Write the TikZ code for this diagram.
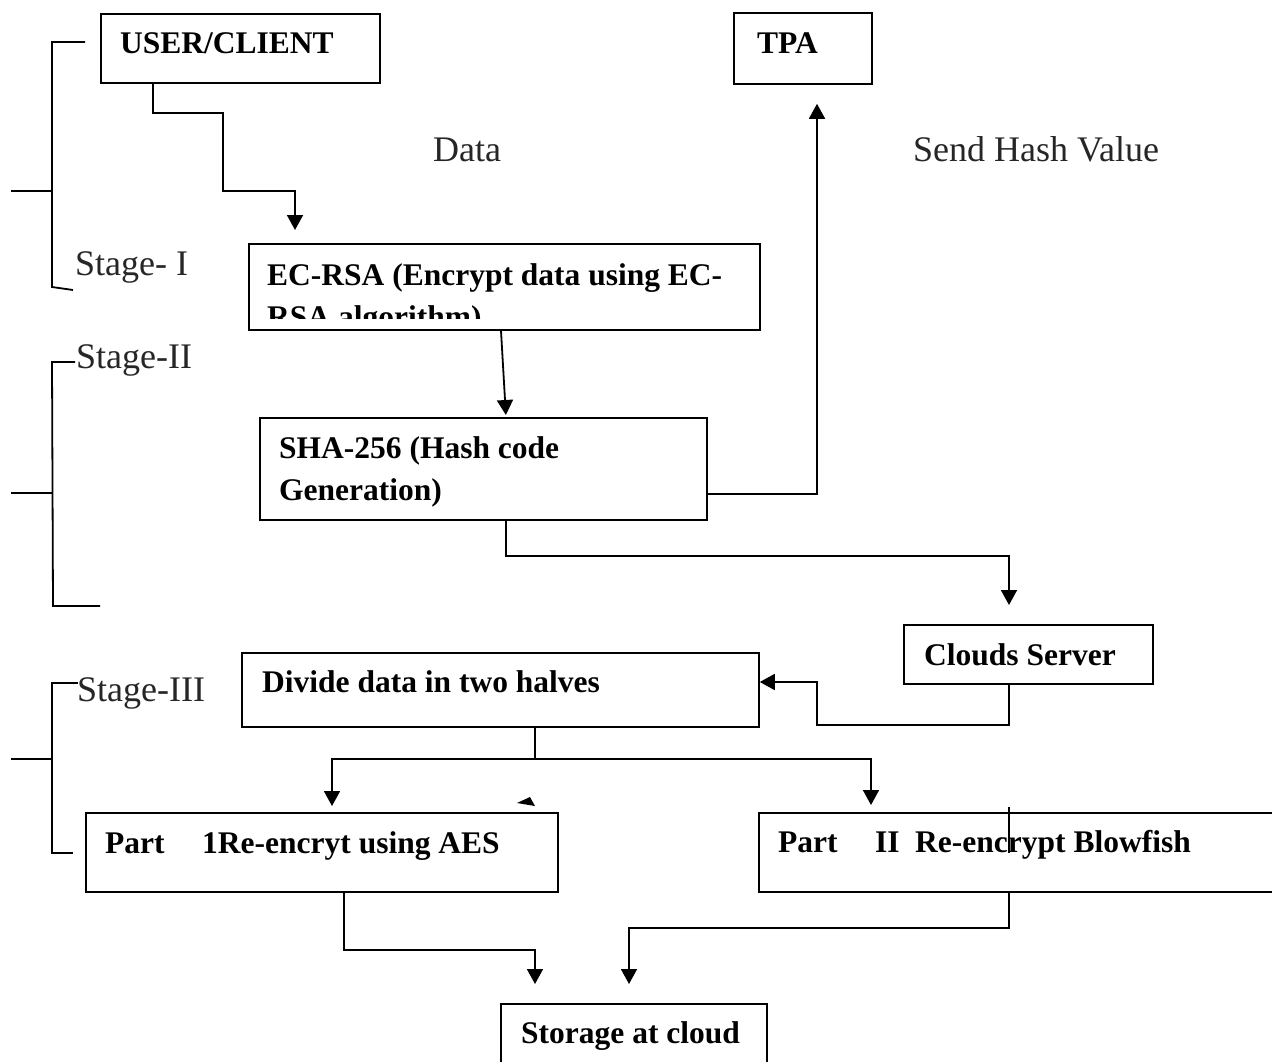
\documentclass[tikz,border=0pt]{standalone}
\usepackage{fontspec}
\setmainfont{Liberation Serif}
\usetikzlibrary{arrows.meta,calc}
\tikzset{
  box/.style={draw=black, line width=1.8pt, rectangle, inner sep=0pt, anchor=north west},
  bt/.style={font=\fontsize{31.5}{38}\selectfont\bfseries, anchor=base west, inner sep=0pt},
  nt/.style={font=\fontsize{36}{43}\selectfont, anchor=base west, inner sep=0pt, text=black!85},
  conn/.style={line width=1.8pt},
  arr/.style={conn, -{Triangle[width=16pt,length=15pt]}},
}
\begin{document}
\begin{tikzpicture}[x=1pt,y=-1pt]
\useasboundingbox (0,0) rectangle (1272,1061);
\clip (0,0) rectangle (1272,1061);

% boxes
\node[box, minimum width=279pt, minimum height=69pt] (user) at (100,13) {};
\node[box, minimum width=138pt, minimum height=71pt] (tpa) at (733,12) {};
\node[box, minimum width=511pt, minimum height=86pt] (ec) at (248,243) {};
\node[box, minimum width=447pt, minimum height=102pt] (sha) at (259,417) {};
\node[box, minimum width=249pt, minimum height=59pt] (clouds) at (903,624) {};
\node[box, minimum width=517pt, minimum height=74pt] (divide) at (241,652) {};
\node[box, minimum width=472pt, minimum height=79pt] (part1) at (85,812) {};
\node[box, minimum width=560pt, minimum height=79pt] (part2) at (758,812) {};
\node[box, minimum width=266pt, minimum height=80pt] (storage) at (500,1003) {};

% texts
\node[bt] (tuser) at (120,53) {USER/CLIENT};
\node[bt] (ttpa) at (757,53) {TPA};
\node[nt] (tdata) at (433,161) {Data};
\node[nt] (tsend) at (913,161) {Send Hash Value};
\node[nt] (ts1) at (75,275) {Stage- I};
\node[nt] (ts2) at (76,368) {Stage-II};
\node[nt] (ts3) at (77,701) {Stage-III};
\node[bt] (tec1) at (267,285) {EC-RSA (Encrypt data using EC-};
\begin{scope}
\clip (248,243) rectangle (759,318);
\node[bt] (tec2) at (267,327) {RSA algorithm)};
\end{scope}
\node[bt] (tsha1) at (279,458) {SHA-256 (Hash code};
\node[bt] (tsha2) at (279,500) {Generation)};
\node[bt] (tclouds) at (924,665) {Clouds Server};
\node[bt] (tdiv) at (262,692) {Divide data in two halves};
\node[bt] (tp1a) at (105,853) {Part};
\node[bt] (tp1b) at (202,853) {1Re-encryt using AES};
\node[bt] (tp2a) at (778,852) {Part};
\node[bt] (tp2b) at (875,852) {II};
\node[bt] (tp2c) at (915,852) {Re-encrypt Blowfish};
\node[bt] (tstor) at (521,1043) {Storage at cloud};

% column coordinates
\coordinate (cA) at (153,0);
\coordinate (cB) at (295,0);
\coordinate (cC) at (501,0);
\coordinate (cD) at (506,0);
\coordinate (cE) at (0,494);
\coordinate (cF) at (817,0);
\coordinate (cH) at (1009,0);
\coordinate (cI) at (0,682);
\coordinate (cJ) at (535,0);
\coordinate (cK) at (332,0);
\coordinate (cL) at (871,0);
\coordinate (cM) at (344,0);
\coordinate (cN) at (535,0);
\coordinate (cP) at (629,0);

% connectors
\draw[arr, shorten >=13pt] (user.south -| cA) -- (153,113) -- (223,113) -- (223,191) -- (295,191) -- (ec.north -| cB);
\draw[arr, shorten >=2pt] (ec.south -| cC) -- (sha.north -| cD);
\draw[arr, shorten >=19pt] (sha.east |- cE) -- (817,494) -- (tpa.south -| cF);
\draw[arr, shorten >=19pt] (sha.south -| cD) -- (506,556) -- (1009,556) -- (clouds.north -| cH);
\draw[arr] (clouds.south -| cH) -- (1009,725) -- (817,725) -- (817,682) -- (divide.east |- cI);
\draw[conn] (divide.south -| cJ) -- (535,759);
\draw[arr, shorten >=6pt] (535,759) -- (332,759) -- (part1.north -| cK);
\draw[arr, shorten >=7pt] (535,759) -- (871,759) -- (part2.north -| cL);
\draw[arr, shorten >=19pt] (part1.south -| cM) -- (344,950) -- (535,950) -- (storage.north -| cN);
\draw[arr, shorten >=19pt] (part2.south -| cH) -- (1009,928) -- (629,928) -- (storage.north -| cP);

% stray marks
\draw[line width=1.5pt] (1009,807) -- (1009,853);
\fill (517,803) -- (535,806) -- (530,797) -- cycle;

% stage brackets
\draw[conn] (85,42) -- (52,42) -- (52,287) -- (73,290);
\draw[conn] (11,191) -- (52,191);
\draw[conn] (75,362) -- (52,362) -- (53,606) -- (100,606);
\draw[conn] (11,493) -- (52,493);
\draw[conn] (78,683) -- (52,683) -- (52,853) -- (73,853);
\draw[conn] (11,759) -- (52,759);
\end{tikzpicture}
\end{document}
